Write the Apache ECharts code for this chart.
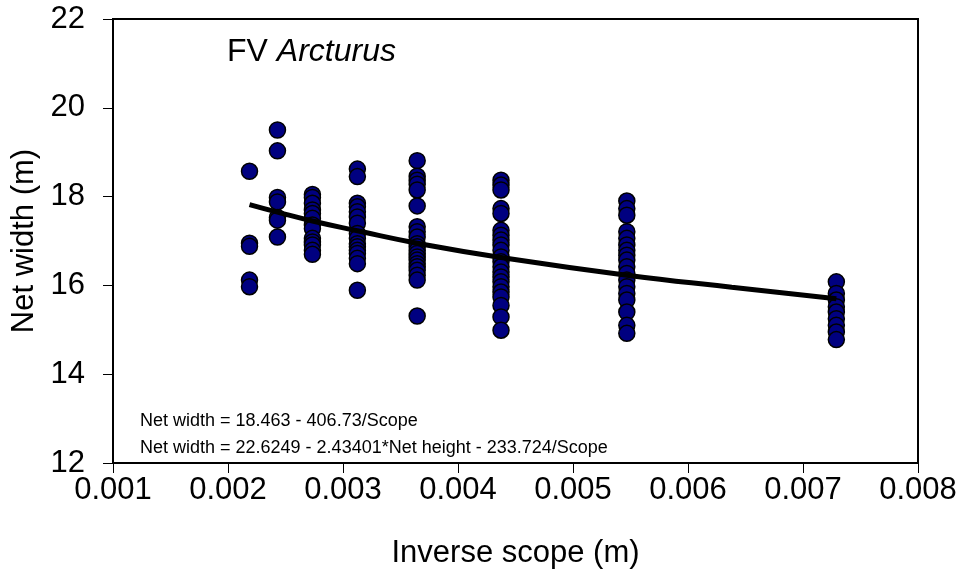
<!DOCTYPE html>
<html>
<head>
<meta charset="utf-8">
<script src="https://cdn.jsdelivr.net/npm/echarts@6/dist/echarts.min.js"></script>
<style>html,body{margin:0;padding:0;background:#fff;}#c{width:961px;height:577px;}</style>
</head>
<body>
<div id="c"></div>
<script>
// Inverse scope (1/m) for each tow-scope group
const scopeInv = [0.002187, 0.002430, 0.002734, 0.003125, 0.003645, 0.004374, 0.005468, 0.007290];
// Net width observations (m) per group
const width1 = [18.57, 16.95, 16.88, 16.12, 15.97];
const width2 = [19.50, 19.03, 17.98, 17.88, 17.53, 17.47, 17.09];
const width3 = [18.05, 17.98, 17.85, 17.70, 17.62, 17.51, 17.36, 17.28, 17.06, 16.98, 16.91, 16.79, 16.70];
const width4 = [18.62, 18.45, 17.85, 17.77, 17.66, 17.54, 17.40, 17.17, 17.06, 16.94, 16.87, 16.79, 16.72, 16.61, 16.49, 15.89];
const width5 = [18.81, 18.46, 18.37, 18.28, 18.15, 17.79, 17.32, 17.21, 17.09, 16.94, 16.87, 16.79, 16.72, 16.64, 16.57, 16.49, 16.42, 16.34, 16.23, 16.12, 15.31];
const width6 = [18.37, 18.26, 18.15, 17.73, 17.62, 17.24, 17.13, 17.02, 16.91, 16.79, 16.64, 16.53, 16.42, 16.30, 16.19, 16.08, 15.97, 15.85, 15.74, 15.55, 15.29, 14.99];
const width7 = [17.90, 17.73, 17.58, 17.21, 17.06, 16.91, 16.79, 16.68, 16.57, 16.42, 16.27, 16.12, 15.97, 15.82, 15.67, 15.40, 15.10, 14.92];
const width8 = [16.08, 15.82, 15.67, 15.52, 15.40, 15.25, 15.10, 14.95, 14.78];
// Fitted trend curve
const curveX = [0.002187, 0.002430, 0.002734, 0.003125, 0.003645, 0.004374, 0.005468, 0.006380, 0.007290];
const curveY = [17.82, 17.65, 17.45, 17.23, 16.95, 16.63, 16.23, 15.96, 15.70];
// Axis ticks
const xTicks = {min: 0.001, max: 0.008, interval: 0.001};
const yTicks = {min: 12, max: 22, interval: 2};
const titleText = ['FV ', 'Arcturus'];
const eq1 = 'Net width = 18.463 - 406.73/Scope';
const eq2 = 'Net width = 22.6249 - 2.43401*Net height - 233.724/Scope';

const groups = [width1, width2, width3, width4, width5, width6, width7, width8];
const pts = [];
groups.forEach((g, i) => g.forEach(v => pts.push([scopeInv[i], v])));
const curve = curveX.map((x, i) => [x, curveY[i]]);

const font = "'Liberation Sans', Arial, sans-serif";
const chart = echarts.init(document.getElementById('c'));
chart.setOption({
  animation: false,
  backgroundColor: '#fff',
  title: {
    text: titleText[0] + '{i|' + titleText[1] + '}',
    left: 222, top: 31,
    textStyle: {fontFamily: font, fontSize: 32, fontWeight: 'normal', color: '#000',
      rich: {i: {fontFamily: font, fontSize: 32, fontStyle: 'italic', color: '#000'}}}
  },
  grid: {left: 113, right: 43, top: 19, bottom: 114, show: true, borderColor: '#000', borderWidth: 2, backgroundColor: 'transparent'},
  xAxis: {
    type: 'value', min: xTicks.min, max: xTicks.max, interval: xTicks.interval,
    name: 'Inverse scope (m)', nameLocation: 'middle', nameGap: 75,
    nameTextStyle: {fontFamily: font, fontSize: 31, color: '#000'},
    axisLine: {show: true, onZero: false, lineStyle: {color: '#000', width: 2}},
    axisTick: {show: true, inside: false, length: 10, lineStyle: {color: '#000', width: 1}},
    axisLabel: {fontFamily: font, fontSize: 31, color: '#000', margin: 12,
      formatter: v => v.toFixed(3)},
    splitLine: {show: false}
  },
  yAxis: {
    type: 'value', min: yTicks.min, max: yTicks.max, interval: yTicks.interval,
    name: 'Net width (m)', nameLocation: 'middle', nameGap: 68,
    nameTextStyle: {fontFamily: font, fontSize: 31, color: '#000'},
    axisLine: {show: true, onZero: false, lineStyle: {color: '#000', width: 2}},
    axisTick: {show: true, inside: false, length: 10, lineStyle: {color: '#000', width: 1}},
    axisLabel: {fontFamily: font, fontSize: 31, color: '#000', margin: 28},
    splitLine: {show: false}
  },
  graphic: [
    {type: 'text', left: 140, top: 412, style: {text: eq1, fontFamily: font, fontSize: 18, fill: '#000'}},
    {type: 'text', left: 140, top: 439, style: {text: eq2, fontFamily: font, fontSize: 18, fill: '#000'}}
  ],
  series: [
    {type: 'scatter', data: pts, symbol: 'circle', symbolSize: 16, z: 2,
      itemStyle: {color: '#000080', borderColor: '#000', borderWidth: 1.5, opacity: 1}},
    {type: 'line', data: curve, smooth: true, showSymbol: false, symbol: 'none', z: 3,
      lineStyle: {color: '#000', width: 5}}
  ]
});
</script>
</body>
</html>
